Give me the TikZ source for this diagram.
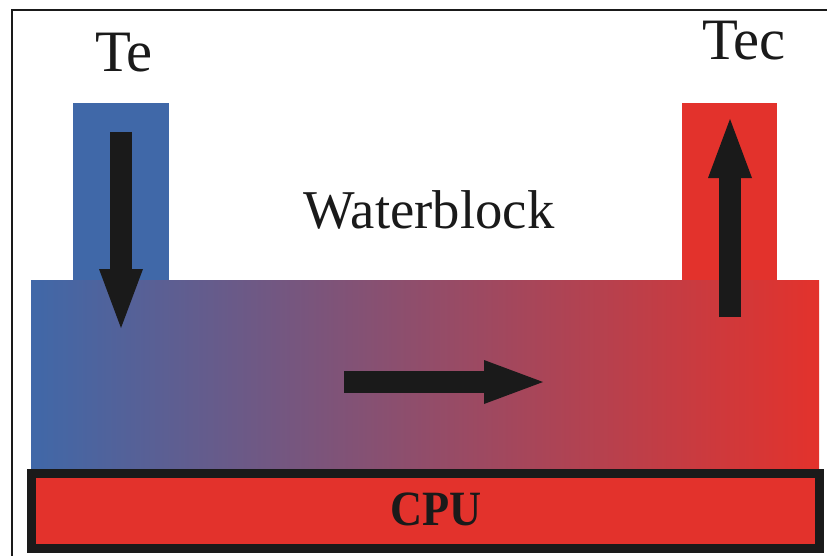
\documentclass[tikz,border=0pt]{standalone}
\usepackage{fontspec}
\setmainfont{Liberation Serif}
\usetikzlibrary{arrows.meta}
\definecolor{inblue}{RGB}{64,104,168}
\definecolor{outred}{RGB}{227,50,44}
\definecolor{midmauve}{RGB}{150,92,118}
\definecolor{ink}{RGB}{26,26,26}
\tikzset{
  flowarrow/.style={draw=ink, line width=16.5pt,
    -{Triangle[length=44.25pt 0, width=33pt 0, line width=0pt]}},
  label/.style={anchor=base, inner sep=0pt, text=ink}
}
\begin{document}
\begin{tikzpicture}[x=0.75pt, y=-0.75pt]
\useasboundingbox (0,0) rectangle (827,556);
\fill[white] (0,0) rectangle (827,556);
% frame
\draw[ink, line width=1.5pt] (12,560) -- (12,10) -- (830,10);
% waterblock body
\shade[left color=inblue, middle color=midmauve, right color=outred] (31,280) rectangle (819,468);
% inlet / outlet pipes
\fill[inblue] (73,103) rectangle (169,280);
\fill[outred] (682,103) rectangle (777,280);
% CPU
\draw[fill=outred, draw=ink, line width=6.75pt] (31,473) rectangle (819,548);
% flow coordinates
\coordinate (inS) at (121,132);
\coordinate (inE) at (121,328);
\coordinate (midS) at (344,382);
\coordinate (midE) at (543,382);
\coordinate (outS) at (730,317);
\coordinate (outE) at (730,119);
\draw[flowarrow] (inS) -- (inE);
\draw[flowarrow] (midS) -- (midE);
\draw[flowarrow] (outS) -- (outE);
% labels
\node[label, font=\fontsize{44}{50}\selectfont] (te) at (124,72) {Te};
\node[label, font=\fontsize{44}{50}\selectfont] (tec) at (744,60) {Tec};
\node[label, font=\fontsize{41}{48}\selectfont] (wb) at (429,228) {Waterblock};
\node[label, xscale=0.9, font=\bfseries\fontsize{37}{42}\selectfont] (cpu) at (436,525) {CPU};
\end{tikzpicture}
\end{document}
